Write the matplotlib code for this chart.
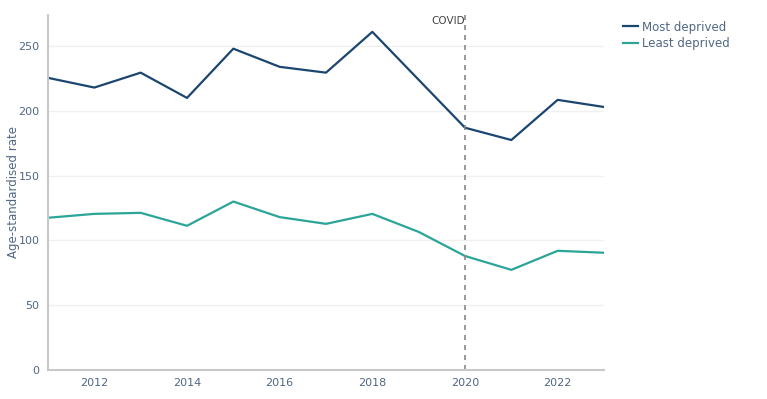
import matplotlib.pyplot as plt

years = [2011, 2012, 2013, 2014, 2015, 2016, 2017, 2018, 2019, 2020, 2021, 2022, 2023]
most_deprived = [225.5, 218, 229.5, 210, 248, 234, 229.5, 261, 224, 187, 177.5, 208.5, 203]
least_deprived = [117.5, 120.5, 121.3, 111.3, 130, 118, 112.8, 120.5, 106.6, 88, 77.3, 92, 90.5]
covid_year = 2020

navy = '#1b4670'
teal = '#2ba598'
tick_col = '#506784'

fig = plt.figure(figsize=(7.67, 3.99), dpi=100)
ax = fig.add_axes([48 / 767, 1 - 370 / 399, (604 - 48) / 767, (370 - 15) / 399])

ax.plot(years, most_deprived, color=navy, lw=1.6, label='Most deprived')
ax.plot(years, least_deprived, color=teal, lw=1.6, label='Least deprived')

# covid marker
ax.axvline(covid_year, color='#888888', lw=1.2, ls=(0, (3, 3)))
ax.text(covid_year, 273, 'COVID', ha='right', va='top', fontsize=7.5, color='#444444')

ax.set_xlim(2011, 2023)
ax.set_ylim(0, 274)
ax.set_xticks([2012, 2014, 2016, 2018, 2020, 2022])
ax.set_yticks([0, 50, 100, 150, 200, 250])
ax.tick_params(axis='both', length=0, labelsize=8, colors=tick_col, pad=6)
ax.grid(axis='y', color='#f0f0f0', lw=1)
ax.set_axisbelow(True)
for s in ['top', 'right']:
    ax.spines[s].set_visible(False)
for s in ['left', 'bottom']:
    ax.spines[s].set_color('#c8c8c8')
    ax.spines[s].set_linewidth(1.5)
ax.set_ylabel('Age-standardised rate', fontsize=8.5, color=tick_col)
ax.yaxis.set_label_coords(-0.05, 0.5)

leg = fig.legend(loc='upper left', bbox_to_anchor=(612 / 767, 1 - 10 / 399), frameon=False,
                 fontsize=8.5, handlelength=1.3, handletextpad=0.3, labelspacing=0.3)
for t in leg.get_texts():
    t.set_color(tick_col)

fig.savefig('out.png', dpi=100)
